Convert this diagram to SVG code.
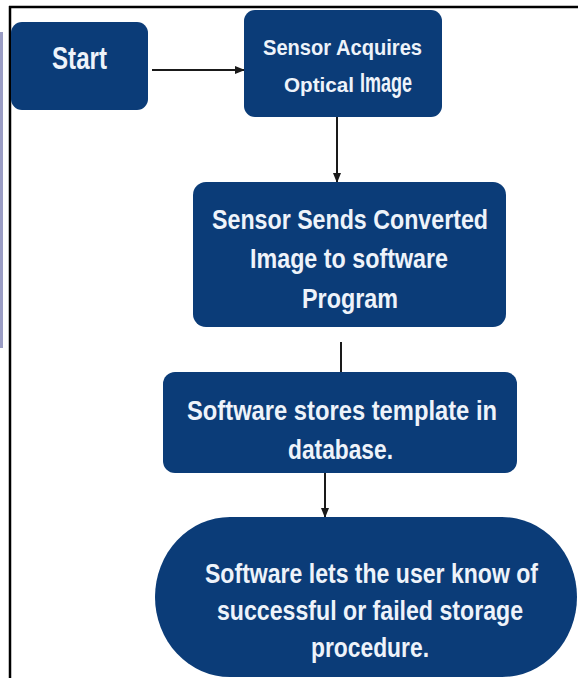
<svg xmlns="http://www.w3.org/2000/svg" width="578" height="678" viewBox="0 0 578 678">
<defs>
<style>
.box{fill:#0b3c78;}
.t{fill:#eef3fa;font-family:"Liberation Sans","Arial",sans-serif;font-weight:bold;text-anchor:start;}
.c{stroke:#1a1a1a;stroke-width:2;fill:none;}
</style>
<marker id="ah" markerWidth="10" markerHeight="10" refX="9" refY="5" orient="auto" markerUnits="userSpaceOnUse">
<path d="M0,1 L10,5 L0,9 Z" fill="#1a1a1a"/>
</marker>
</defs>
<rect x="0" y="0" width="578" height="678" fill="#ffffff"/>
<g id="frame">
<line x1="1.5" y1="32" x2="1.5" y2="348" stroke="#9a9cc4" stroke-width="3"/>
<line x1="10" y1="6" x2="10" y2="678" stroke="#000" stroke-width="2.5"/>
<line x1="9" y1="7" x2="578" y2="7" stroke="#000" stroke-width="2.5"/>
</g>
<g id="connectors">
<line class="c" x1="152" y1="70" x2="244" y2="70" marker-end="url(#ah)"/>
<line class="c" x1="337" y1="117" x2="337" y2="182" marker-end="url(#ah)"/>
<line class="c" x1="341" y1="342" x2="341" y2="372"/>
<line class="c" x1="325" y1="473" x2="325" y2="517" marker-end="url(#ah)"/>
</g>
<g id="start">
<rect class="box" x="11" y="22" width="137" height="88" rx="11"/>
<text class="t" x="52" y="69" font-size="31" textLength="55" lengthAdjust="spacingAndGlyphs">Start</text>
</g>
<g id="acquire">
<rect class="box" x="244" y="10" width="198" height="107" rx="11"/>
<text class="t" x="263" y="55" font-size="22" textLength="159" lengthAdjust="spacingAndGlyphs">Sensor Acquires</text>
<text class="t" x="284" y="92" font-size="21" textLength="70" lengthAdjust="spacingAndGlyphs">Optical</text>
<text class="t" x="360" y="92" font-size="28" textLength="52" lengthAdjust="spacingAndGlyphs">Image</text>
</g>
<g id="sends">
<rect class="box" x="193" y="182" width="313" height="145" rx="13"/>
<text class="t" x="212" y="229" font-size="27" textLength="276" lengthAdjust="spacingAndGlyphs">Sensor Sends Converted</text>
<text class="t" x="250" y="268" font-size="27" textLength="198" lengthAdjust="spacingAndGlyphs">Image to software</text>
<text class="t" x="302" y="308" font-size="27" textLength="96" lengthAdjust="spacingAndGlyphs">Program</text>
</g>
<g id="stores">
<rect class="box" x="163" y="372" width="354" height="101" rx="12"/>
<text class="t" x="187" y="420" font-size="27" textLength="310" lengthAdjust="spacingAndGlyphs">Software stores template in</text>
<text class="t" x="288" y="459" font-size="27" textLength="105" lengthAdjust="spacingAndGlyphs">database.</text>
</g>
<g id="notify">
<rect class="box" x="155" y="517" width="422" height="160" rx="75" ry="80"/>
<text class="t" x="205" y="583" font-size="27" textLength="333" lengthAdjust="spacingAndGlyphs">Software lets the user know of</text>
<text class="t" x="217" y="620" font-size="27" textLength="306" lengthAdjust="spacingAndGlyphs">successful or failed storage</text>
<text class="t" x="311" y="657" font-size="27" textLength="118" lengthAdjust="spacingAndGlyphs">procedure.</text>
</g>
</svg>
